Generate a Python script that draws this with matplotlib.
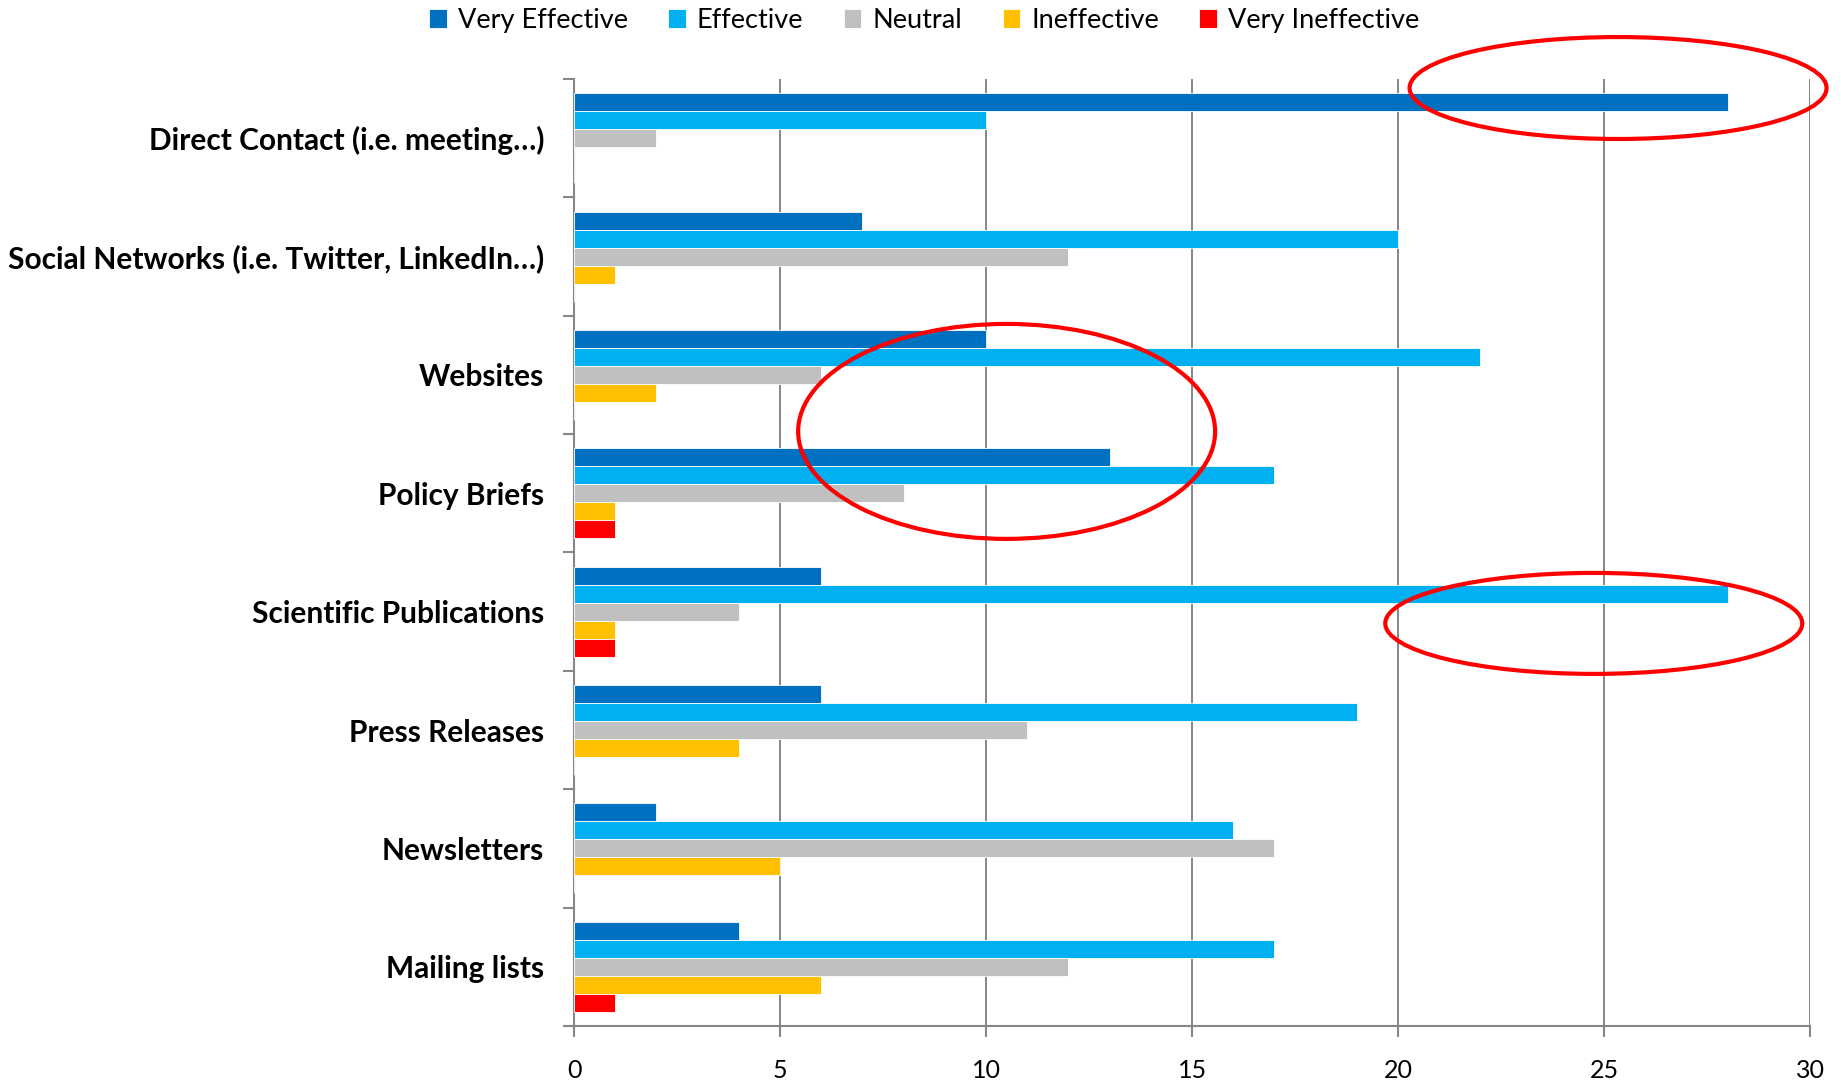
import numpy as np
import matplotlib
matplotlib.use('Agg')
import matplotlib.pyplot as plt
from matplotlib.patches import Ellipse

# Survey data: number of answers per channel
categories = ['Direct Contact (i.e. meeting…)',
              'Social Networks (i.e. Twitter, LinkedIn…)',
              'Websites',
              'Policy Briefs',
              'Scientific Publications',
              'Press Releases',
              'Newsletters',
              'Mailing lists']
series_names = ['Very Effective', 'Effective', 'Neutral', 'Ineffective', 'Very Ineffective']
very_effective = [28, 7, 10, 13, 6, 6, 2, 4]
effective = [10, 20, 22, 17, 28, 19, 16, 17]
neutral = [2, 12, 6, 8, 4, 11, 17, 12]
ineffective = [0, 1, 2, 1, 1, 4, 5, 6]
very_ineffective = [0, 0, 0, 1, 1, 0, 0, 1]
colors = ['#0070C0', '#00B0F0', '#C0C0C0', '#FFC000', '#FF0000']

series = [very_effective, effective, neutral, ineffective, very_ineffective]

plt.rcParams['font.family'] = ['Lato', 'DejaVu Sans']

fig = plt.figure(figsize=(18.41, 10.81), dpi=100)
ax = fig.add_axes([0.3118, 0.0509, 0.9832 - 0.3118, 0.9269 - 0.0509])

y = np.arange(len(categories))
bar_h = 0.152
for i, (vals, name, c) in enumerate(zip(series, series_names, colors)):
    ax.barh(y + (i - 2) * bar_h, vals, height=bar_h, color=c, label=name,
            edgecolor='white', linewidth=0.6, zorder=3)

ax.set_xlim(0, 30)
ax.set_ylim(len(categories) - 0.5, -0.5)
ax.set_xticks(np.arange(0, 31, 5))
ax.tick_params(axis='x', length=8, width=1.5, color='#868686', labelsize=18, pad=16)

# category boundaries get the tick marks, centers get the labels
ax.set_yticks(np.arange(-0.5, len(categories), 1))
ax.set_yticklabels([])
ax.set_yticks(y, minor=True)
ax.set_yticklabels(categories, minor=True, fontsize=21.5, fontweight='bold')
ax.tick_params(axis='y', which='major', length=8, width=1.5, color='#868686')
ax.tick_params(axis='y', which='minor', length=0, pad=21.5)

ax.grid(axis='x', color='#868686', linewidth=1.4, zorder=0)
for s in ['top', 'right']:
    ax.spines[s].set_visible(False)
for s in ['left', 'bottom']:
    ax.spines[s].set_color('#868686')
    ax.spines[s].set_linewidth(1.5)

# red highlight ellipses
highlights = [(25.34, -0.424, 10.12, 0.861),
              (10.50, 2.477, 10.12, 1.816),
              (24.75, 4.099, 10.12, 0.853)]
for cx, cy, w, h in highlights:
    ax.add_patch(Ellipse((cx, cy), w, h, fill=False, edgecolor='#FF0000',
                         linewidth=3, clip_on=False, zorder=5))

fig.legend(loc='center', bbox_to_anchor=(0.502, 0.981), ncol=5, frameon=False,
           fontsize=19.5, handlelength=0.65, handleheight=0.65, handletextpad=0.4,
           columnspacing=1.5)

fig.savefig('out.png', dpi=100)
